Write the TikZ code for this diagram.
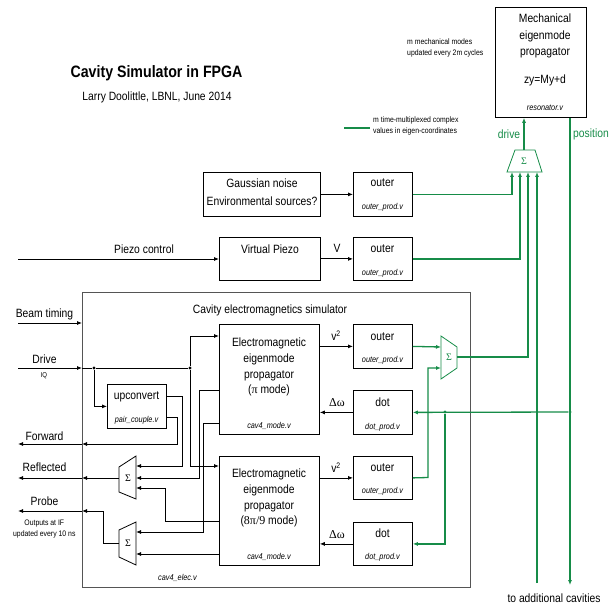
\documentclass[tikz,border=0pt]{standalone}
\usepackage{fontspec}
\setmainfont[FakeStretch=0.86]{Liberation Sans}
\newfontfamily\serf{Liberation Serif}
\usetikzlibrary{arrows.meta,calc}
\definecolor{gr}{RGB}{22,140,72}
\definecolor{bxgray}{RGB}{85,85,85}
\newcommand\fmain{\fontsize{12}{15.8}\selectfont}
\newcommand\fsm{\fontsize{8.5}{10}\selectfont\itshape}
\newcommand\fnote{\fontsize{8}{10.5}\selectfont}
\begin{document}
\begin{tikzpicture}[x=1pt,y=-1pt,
  box/.style={draw=black, line width=0.8pt, inner sep=0, anchor=north west},
  txt/.style={inner sep=0, font=\fmain, align=center},
  fn/.style={inner sep=0, font=\fsm},
  note/.style={inner sep=0, font=\fnote, align=left, anchor=west},
  wire/.style={draw=black, line width=0.8pt},
  arr/.style={-{Latex[length=5pt,width=4pt]}},
  gwire/.style={draw=gr, line width=1.3pt},
  jdot/.style={circle, fill, inner sep=0, minimum size=3.2pt},
  sumsh/.style={line width=0.8pt}
]
\useasboundingbox (0,0) rectangle (613,609);

% ---- title
\node[inner sep=0, font=\fontsize{16.5}{18}\selectfont\bfseries] (title) at (156.5,73) {Cavity Simulator in FPGA};
\node[txt] (author) at (157,97) {Larry Doolittle, LBNL, June 2014};

% ---- boxes
\node[box, minimum width=91, minimum height=110] (mech) at (495,7) {};
\node[box, minimum width=117, minimum height=44] (gauss) at (203,172) {};
\node[box, minimum width=59, minimum height=44] (outerA) at (353,172) {};
\node[box, minimum width=101, minimum height=43] (piezo) at (219,237) {};
\node[box, minimum width=59, minimum height=43] (outerB) at (353,237) {};
\node[box, draw=bxgray, line width=1pt, minimum width=388, minimum height=295] (cav) at (82,292) {};
\node[box, minimum width=59, minimum height=44] (upc) at (107,384) {};
\node[box, minimum width=100, minimum height=110] (emA) at (219,324) {};
\node[box, minimum width=59, minimum height=44] (outerC) at (353,324) {};
\node[box, minimum width=59, minimum height=44] (dotA) at (353,390) {};
\node[box, minimum width=100, minimum height=109] (emB) at (219,456) {};
\node[box, minimum width=59, minimum height=43] (outerD) at (353,456) {};
\node[box, minimum width=59, minimum height=43] (dotB) at (353,522) {};

% ---- box texts
\node[txt, font=\fontsize{12}{16.5}\selectfont] (mechT) at (545,36) {Mechanical\\eigenmode\\propagator};
\node[txt] (mechEq) at (545,80) {zy=My+d};
\node[fn] (mechF) at (545,108) {resonator.v};
\node[txt, font=\fontsize{12}{17.5}\selectfont] (gaussT) at (262,192) {Gaussian noise\\Environmental sources?};
\node[txt] (outerAT) at (382.5,183) {outer};
\node[fn] (outerAF) at (382.5,207) {outer\_prod.v};
\node[txt] (piezoT) at (270,249) {Virtual Piezo};
\node[txt] (outerBT) at (382.5,249) {outer};
\node[fn] (outerBF) at (382.5,273) {outer\_prod.v};
\node[txt] (cavT) at (270,310) {Cavity electromagnetics simulator};
\node[fn] (cavF) at (177.5,578) {cav4\_elec.v};
\node[txt] (upcT) at (136.5,397) {upconvert};
\node[fn] (upcF) at (136.5,420) {pair\_couple.v};
\node[txt] (emAT) at (269,367) {Electromagnetic\\eigenmode\\propagator\\({\serf π} mode)};
\node[fn] (emAF) at (269,426) {cav4\_mode.v};
\node[txt] (outerCT) at (382.5,337) {outer};
\node[fn] (outerCF) at (382.5,360) {outer\_prod.v};
\node[txt] (dotAT) at (382.5,402) {dot};
\node[fn] (dotAF) at (382.5,427) {dot\_prod.v};
\node[txt] (emBT) at (269,498) {Electromagnetic\\eigenmode\\propagator\\({\serf 8π/9} mode)};
\node[fn] (emBF) at (269,557) {cav4\_mode.v};
\node[txt] (outerDT) at (382.5,468) {outer};
\node[fn] (outerDF) at (382.5,491) {outer\_prod.v};
\node[txt] (dotBT) at (382.5,533) {dot};
\node[fn] (dotBF) at (382.5,557) {dot\_prod.v};

% ---- notes
\node[note] (n1) at (407,48) {m mechanical modes\\updated every 2m cycles};
\node[note] (n2) at (373,126) {m time-multiplexed complex\\values in eigen-coordinates};
\coordinate (lgA) at (344,128);
\coordinate (lgB) at (370,128);
\draw[draw=gr, line width=1.8pt] (lgA) -- (lgB);

% ---- summers (drawn shapes)
\draw[sumsh, draw=gr] (515,150) -- (535,150) -- (542,172) -- (507,172) -- cycle;
\node[inner sep=0, text=gr, font=\serf\fontsize{10}{10}\selectfont] (s0) at (524,161) {Σ};
\draw[sumsh, draw=gr] (441,336) -- (457,347) -- (457,368) -- (441,379) -- cycle;
\node[inner sep=0, text=gr, font=\serf\fontsize{10}{10}\selectfont] (s3) at (449,357) {Σ};
\draw[sumsh] (119,467) -- (136,456) -- (136,499) -- (119,492) -- cycle;
\node[inner sep=0, font=\serf\fontsize{10}{10}\selectfont] (s1) at (128,478) {Σ};
\draw[sumsh] (119,530) -- (136,522) -- (136,565) -- (119,557) -- cycle;
\node[inner sep=0, font=\serf\fontsize{10}{10}\selectfont] (s2) at (128,543) {Σ};

\coordinate (s0o) at (524,150);
\coordinate (s0i1) at (512,172);
\coordinate (s0i2) at (520,172);
\coordinate (s0i3) at (528,172);
\coordinate (s0i4) at (537,172);
\coordinate (s3i1) at (441,347);
\coordinate (s3i2) at (441,368);
\coordinate (s3o) at (457,357);
\coordinate (s1i1) at (136,466);
\coordinate (s1i2) at (136,478);
\coordinate (s1i3) at (136,488);
\coordinate (s1o) at (119,478);
\coordinate (s2i1) at (136,532);
\coordinate (s2i2) at (136,554);
\coordinate (s2o) at (119,543);

% ---- side labels
\node[txt] (lPiezo) at (144,249) {Piezo control};
\node[txt] (lBeam) at (44.5,314) {Beam timing};
\node[txt] (lDrive) at (44.5,359) {Drive};
\node[inner sep=0, font=\fontsize{7}{8}\selectfont] (lIQ) at (44,376) {IQ};
\node[txt] (lFwd) at (44.5,436) {Forward};
\node[txt] (lRefl) at (44.5,467) {Reflected};
\node[txt] (lProbe) at (44.5,501) {Probe};
\node[txt, font=\fnote] (lOut) at (44.3,529) {Outputs at IF\\updated every 10 ns};
\node[txt] (lAdd) at (554,598) {to additional cavities};
\node[txt, text=gr] (lDrv) at (509,134) {drive};
\node[txt, text=gr] (lPos) at (591,134) {position};
\node[txt] (lV) at (337,248) {V};
\node[txt] (lv2A) at (336,336) {v\textsuperscript{2}};
\node[txt, font=\serf\fontsize{12}{14}\selectfont] (ldwA) at (337,403) {Δω};
\node[txt] (lv2B) at (336,468) {v\textsuperscript{2}};
\node[txt, font=\serf\fontsize{12}{14}\selectfont] (ldwB) at (337,535) {Δω};

% ---- free ends
\coordinate (pzIn) at (18,259);
\coordinate (btIn) at (18,323);
\coordinate (drIn) at (18,368);
\coordinate (fwdOut) at (18,444);
\coordinate (refOut) at (18,478);
\coordinate (prbOut) at (18,511);
\coordinate (addA) at (537,583);
\coordinate (addB) at (570,585);

% ---- black connectors
\draw[wire,arr] (gauss) -- (outerA);
\draw[wire,arr] (piezo) -- (outerB);
\draw[wire,arr] (pzIn) -- (pzIn -| piezo.west);
\draw[wire,arr] (btIn) -- (btIn -| cav.west);
\draw[wire,arr] (drIn) -- (drIn -| cav.west);
\node[jdot] (j1) at (94,368) {};
\node[jdot] (j2) at (190,368) {};
\draw[wire] (drIn -| cav.west) -- (j1) -- (j2);
\draw[wire,arr] (j1) |- (upc.west);
\draw[wire,arr] (j2) |- ($(emA.north west)+(0,12)$);
\draw[wire,arr] (j2) |- ($(emB.north west)+(0,10)$);
\draw[wire,arr] ($(upc.north east)+(0,12)$) -- ++(16,0) |- (s1i1);
\coordinate (fwdB) at ($(cav.north west)+(0,152)$);
\draw[wire,arr] ($(upc.north east)+(0,33)$) -- ++(11,0) |- (fwdB);
\draw[wire,arr] (fwdB) -- (fwdOut);
\draw[wire,arr] ($(emA.north west)+(0,66)$) -- (199,390) |- (s1i2);
\draw[wire,arr] ($(emA.north west)+(0,99)$) -- (203,423) |- (s2i1);
\draw[wire,arr] ($(emB.north west)+(0,65)$) -- (165,521) |- (s1i3);
\draw[wire,arr] ($(emB.north west)+(0,98)$) -- (s2i2);
\coordinate (refB) at (refOut -| cav.west);
\draw[wire,arr] (s1o) -- (refB);
\draw[wire,arr] (refB) -- (refOut);
\coordinate (prbB) at (prbOut -| cav.west);
\draw[wire,arr] (s2o) -- (103,543) |- (prbB);
\draw[wire,arr] (prbB) -- (prbOut);
\draw[wire,arr] (outerC.west -| emA.east) -- (outerC.west);
\draw[wire,arr] (dotA.west) -- (dotA.west -| emA.east);
\draw[wire,arr] (outerD.west -| emB.east) -- (outerD.west);
\draw[wire,arr] (dotB.west) -- (dotB.west -| emB.east);

% ---- green connectors
\draw[gwire,arr] (outerA.east) -| (s0i1);
\draw[gwire,arr] (outerB.east) -| (s0i2);
\draw[gwire,arr] (outerC.east) -- (s3i1);
\draw[gwire,arr] (outerD.east) -- (428,477.5) |- (s3i2);
\draw[gwire,arr] (s3o) -| (s0i3);
\draw[gwire,arr] (addA) -- (s0i4);
\draw[gwire,arr] (s0o) -- (s0o |- mech.south);
\coordinate (posTop) at (addB |- mech.south);
\draw[gwire,arr] (posTop) -- (addB);
\node[jdot, fill=gr] (gj1) at (570,412) {};
\node[jdot, fill=gr] (gj2) at (445,412) {};
\draw[gwire,arr] (gj1) -- (dotA.east);
\draw[gwire,arr] (gj2) |- (dotB.east);
\end{tikzpicture}
\end{document}
